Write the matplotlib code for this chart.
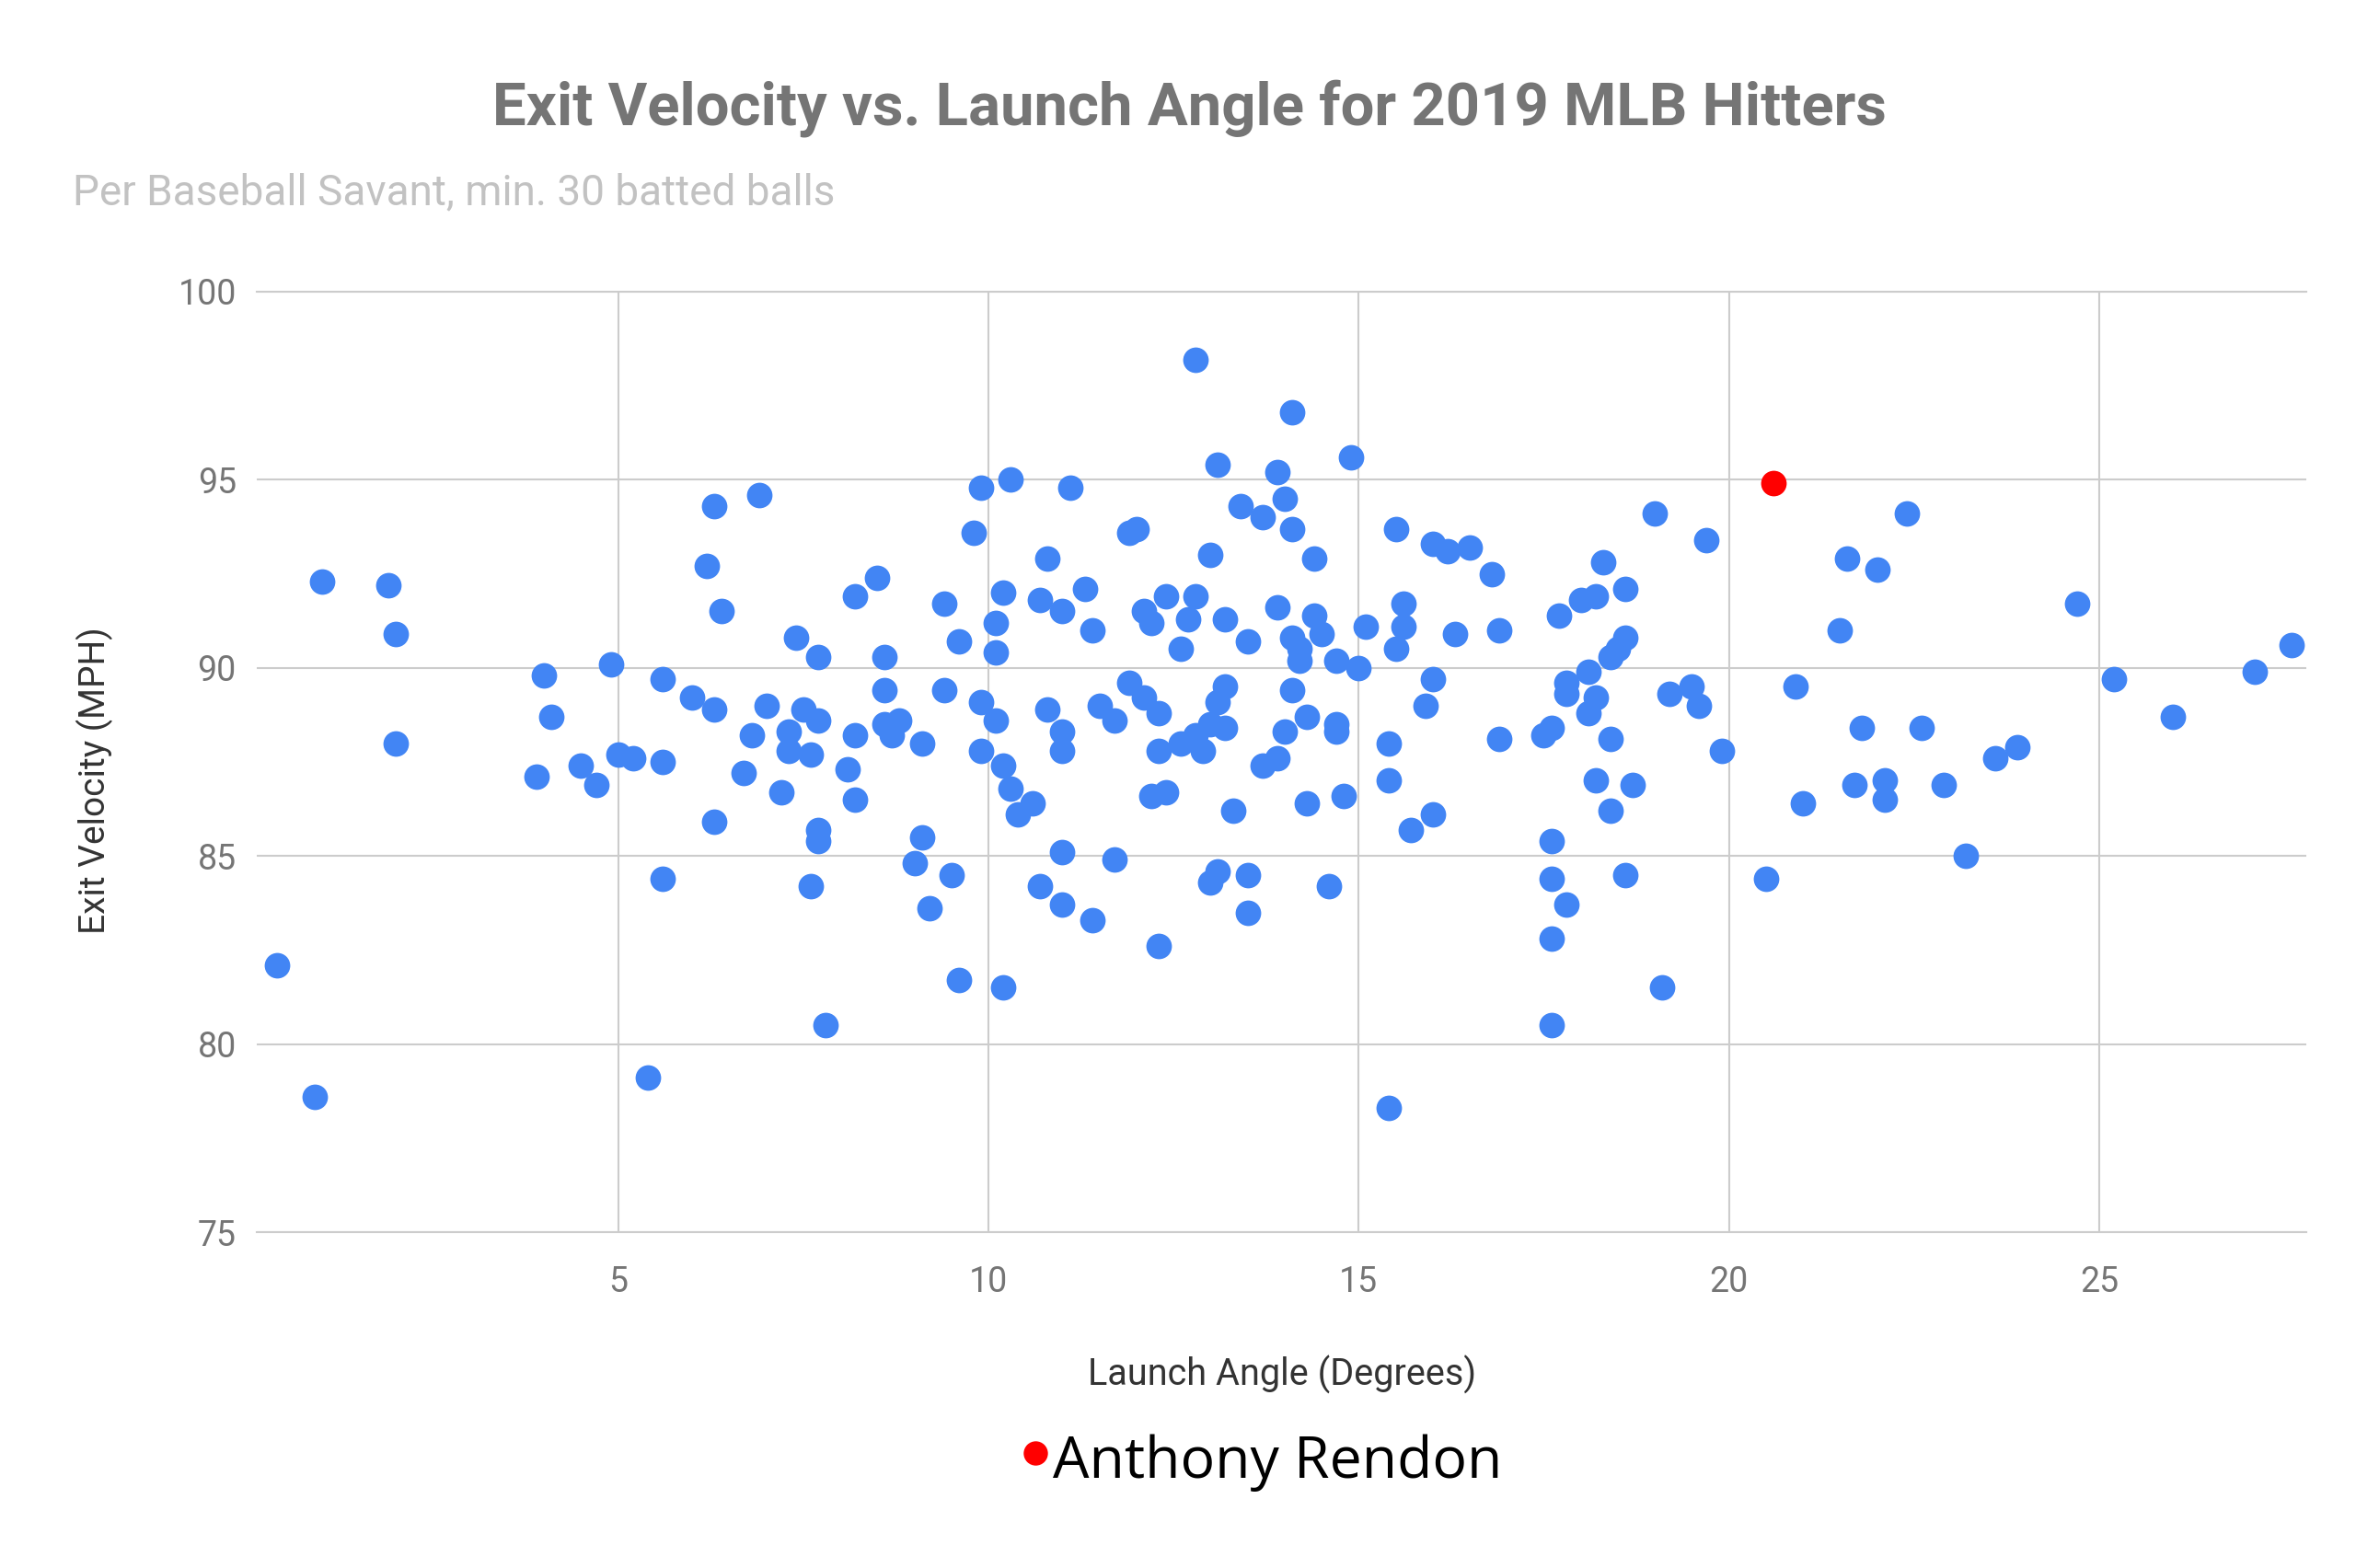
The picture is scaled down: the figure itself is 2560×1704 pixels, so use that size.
import matplotlib.pyplot as plt

# launch angle (degrees) / exit velocity (mph)
launch_angle = [
    0.39, 0.9, 1.0, 1.9, 2.0, 2.0, 3.9, 4.0, 4.1, 4.5,
    4.7, 4.9, 5.0, 5.2, 5.4, 5.6, 5.6, 5.6,
    6.0, 6.2, 6.3, 6.3, 6.3, 6.4, 6.7, 6.8, 6.9, 7.0,
    7.2, 7.3, 7.3, 7.4, 7.5, 7.6, 7.6, 7.7, 7.7, 7.7,
    7.7, 7.8, 8.1, 8.2, 8.2, 8.2, 8.5, 8.6, 8.6, 8.6,
    8.7, 8.8, 9.0, 9.1, 9.1, 9.2, 9.4, 9.4, 9.5, 9.6,
    9.6, 9.8, 9.9, 9.9, 9.9,
    10.1, 10.1, 10.1, 10.2, 10.2, 10.2, 10.3, 10.3, 10.4, 10.6,
    10.7, 10.7, 10.8, 10.8, 11.0, 11.0, 11.0, 11.0, 11.0, 11.1,
    11.3, 11.4, 11.4, 11.5, 11.7, 11.7, 11.9, 12.0, 11.9, 12.1,
    12.1, 12.2, 12.2, 12.3, 12.3, 12.3, 12.4, 12.4, 12.6, 12.6,
    12.7, 12.8, 12.8, 12.8, 12.9, 13.0, 13.0, 13.0, 13.1, 13.1,
    13.1, 13.2, 13.2, 13.2, 13.3, 13.4, 13.5, 13.5, 13.5, 13.7,
    13.7, 13.9, 13.9, 13.9, 14.0, 14.0, 14.1, 14.1, 14.1, 14.1,
    14.2, 14.2, 14.3, 14.3, 14.4, 14.4, 14.5, 14.6, 14.7, 14.7,
    14.7, 14.8, 14.9,
    15.0, 15.1, 15.4, 15.4, 15.4, 15.5, 15.5, 15.6, 15.6, 15.7,
    15.9, 16.0, 16.0, 16.0, 16.2, 16.3, 16.5, 16.8, 16.9, 16.9,
    17.5, 17.6, 17.6, 17.6, 17.6, 17.6, 17.7, 17.8, 17.8, 17.8,
    18.0, 18.1, 18.1, 18.2, 18.2, 18.2, 18.3, 18.4, 18.4, 18.4,
    18.5, 18.6, 18.6, 18.6, 18.7, 19.0, 19.1, 19.2, 19.5, 19.6,
    19.7, 19.9,
    20.5, 20.9, 21.0, 21.5, 21.6, 21.7, 21.8, 22.0, 22.1, 22.1,
    22.4, 22.6, 22.9, 23.2, 23.6, 23.9, 24.7, 25.2, 26.0, 27.1, 27.6,
]
exit_velo = [
    82.1, 78.6, 92.3, 92.2, 90.9, 88.0, 87.1, 89.8, 88.7, 87.4,
    86.9, 90.1, 87.7, 87.6, 79.1, 87.5, 84.4, 89.7,
    89.2, 92.7, 94.3, 88.9, 85.9, 91.5, 87.2, 88.2, 94.6, 89.0,
    86.7, 88.3, 87.8, 90.8, 88.9, 87.7, 84.2, 90.3, 88.6, 85.7,
    85.4, 80.5, 87.3, 86.5, 91.9, 88.2, 92.4, 90.3, 89.4, 88.5,
    88.2, 88.6, 84.8, 85.5, 88.0, 83.6, 91.7, 89.4, 84.5, 90.7,
    81.7, 93.6, 94.8, 89.1, 87.8,
    91.2, 90.4, 88.6, 81.5, 87.4, 92.0, 95.0, 86.8, 86.1, 86.4,
    91.8, 84.2, 92.9, 88.9, 91.5, 88.3, 87.8, 85.1, 83.7, 94.8,
    92.1, 83.3, 91.0, 89.0, 88.6, 84.9, 93.6, 93.7, 89.6, 91.5,
    89.2, 91.2, 86.6, 88.8, 87.8, 82.6, 91.9, 86.7, 90.5, 88.0,
    91.3, 98.2, 91.9, 88.2, 87.8, 93.0, 84.3, 88.5, 95.4, 89.1,
    84.6, 89.5, 88.4, 91.3, 86.2, 94.3, 90.7, 84.5, 83.5, 94.0,
    87.4, 95.2, 91.6, 87.6, 94.5, 88.3, 96.8, 93.7, 90.8, 89.4,
    90.2, 90.5, 86.4, 88.7, 92.9, 91.4, 90.9, 84.2, 90.2, 88.5,
    88.3, 86.6, 95.6,
    90.0, 91.1, 78.3, 88.0, 87.0, 93.7, 90.5, 91.7, 91.1, 85.7,
    89.0, 89.7, 93.3, 86.1, 93.1, 90.9, 93.2, 92.5, 91.0, 88.1,
    88.2, 88.4, 85.4, 84.4, 82.8, 80.5, 91.4, 89.6, 89.3, 83.7,
    91.8, 89.9, 88.8, 91.9, 89.2, 87.0, 92.8, 90.3, 88.1, 86.2,
    90.5, 92.1, 90.8, 84.5, 86.9, 94.1, 81.5, 89.3, 89.5, 89.0,
    93.4, 87.8,
    84.4, 89.5, 86.4, 91.0, 92.9, 86.9, 88.4, 92.6, 87.0, 86.5,
    94.1, 88.4, 86.9, 85.0, 87.6, 87.9, 91.7, 89.7, 88.7, 89.9, 90.6,
]
rendon_angle = [20.6]
rendon_velo = [94.9]

x_ticks = [5, 10, 15, 20, 25]
y_ticks = [75, 80, 85, 90, 95, 100]

assert len(launch_angle) == len(exit_velo)

plt.rcParams['font.family'] = ['Roboto', 'DejaVu Sans']

fig = plt.figure(figsize=(25.6, 17.04), dpi=100)
ax = fig.add_axes([0.109, 0.2142, 0.870, 0.5998])

ax.scatter(launch_angle, exit_velo, s=400, color='#4285f4', linewidths=0, zorder=3)
ax.scatter(rendon_angle, rendon_velo, s=400, color='#ff0000', linewidths=0, zorder=4,
           label='Anthony Rendon')

ax.set_xlim(0.12, 27.8)
ax.set_ylim(75, 100)
ax.set_xticks(x_ticks)
ax.set_yticks(y_ticks)
ax.set_axisbelow(True)
ax.grid(True, color='#cccccc', linewidth=1.5)
for side in ['left', 'right']:
    ax.spines[side].set_visible(False)
for side in ['top', 'bottom']:
    ax.spines[side].set_color('#cccccc')
    ax.spines[side].set_linewidth(1.5)
ax.tick_params(length=0, labelsize=27, labelcolor='#757575')
ax.tick_params(axis='x', pad=26)
ax.tick_params(axis='y', pad=16)

fig.text(0.505, 0.931, 'Exit Velocity vs. Launch Angle for 2019 MLB Hitters',
         ha='center', va='center', fontsize=47, fontweight='bold', color='#757575')
fig.text(0.031, 0.877, 'Per Baseball Savant, min. 30 batted balls',
         ha='left', va='center', fontsize=33, color='#c2c2c2')
fig.text(0.544, 0.123, 'Launch Angle (Degrees)', ha='center', va='center',
         fontsize=28.5, color='#333333')
fig.text(0.040, 0.502, 'Exit Velocity (MPH)', ha='center', va='center',
         rotation=90, fontsize=28, color='#333333')

leg = ax.legend(loc='center', bbox_to_anchor=(0.535, 0.067), bbox_transform=fig.transFigure,
                frameon=False, handletextpad=0.0, handlelength=0.6, markerscale=0.95,
                prop={'family': 'Open Sans', 'size': 45})
for t in leg.get_texts():
    t.set_color('#000000')
# the legend dot sits a little above the text line
for h in leg.legend_handles:
    off = h.get_offsets()
    off[:, 1] += 8
    h.set_offsets(off)

fig.savefig('out.png', dpi=100, facecolor='white')
